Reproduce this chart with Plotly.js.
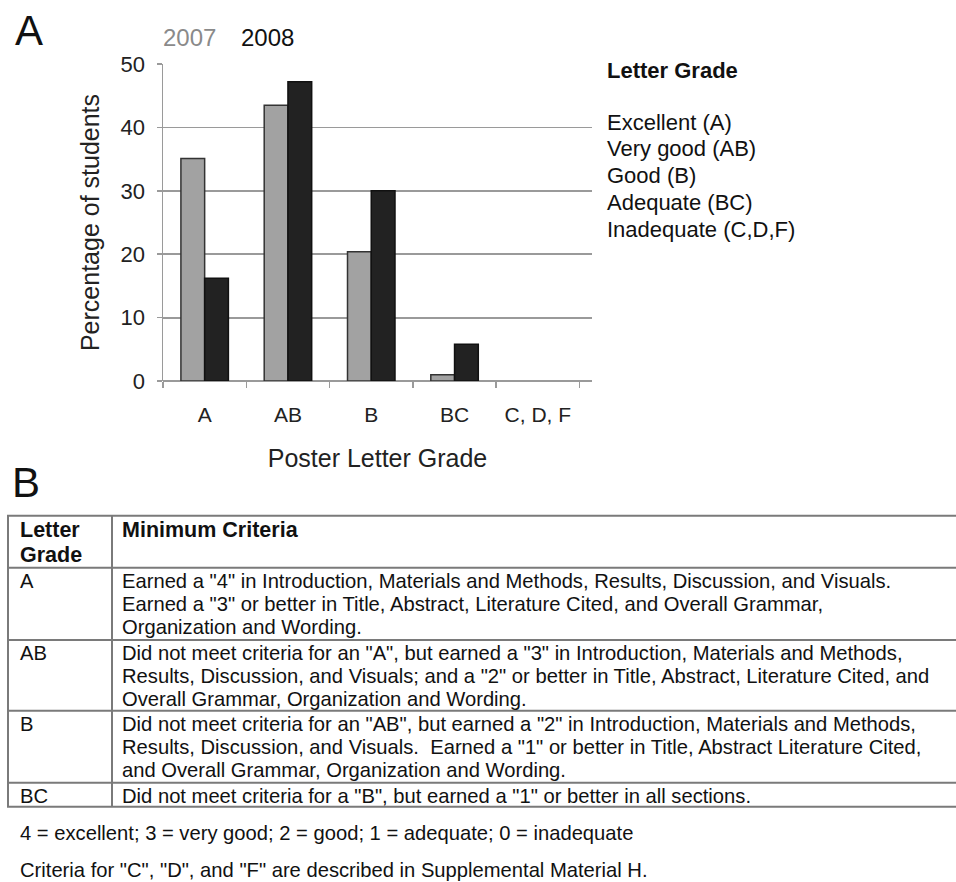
<!DOCTYPE html>
<html>
<head>
<meta charset="utf-8">
<script src="https://cdn.plot.ly/plotly-3.0.1.min.js"></script>
<style>html,body{margin:0;padding:0;background:#fff;}</style>
</head>
<body>
<div id="chart" style="width:956px;height:882px;"></div>
<script>
// ---- Data ----
const categories = ["A", "AB", "B", "BC", "C, D, F"];
const pct2007 = [35.1, 43.5, 20.4, 1.0, 0];
const pct2008 = [16.2, 47.2, 30.0, 5.8, 0];
const seriesNames = ["2007", "2008"];
const legendTitle = "Letter Grade";
const legendItems = ["Excellent (A)", "Very good (AB)", "Good (B)", "Adequate (BC)", "Inadequate (C,D,F)"];
const tableHeader = [["Letter", "Grade"], ["Minimum Criteria"]];
const tableGrades = ["A", "AB", "B", "BC"];
const tableCriteria = [
  ['Earned a "4" in Introduction, Materials and Methods, Results, Discussion, and Visuals.',
   'Earned a "3" or better in Title, Abstract, Literature Cited, and Overall Grammar,',
   'Organization and Wording.'],
  ['Did not meet criteria for an "A", but earned a "3" in Introduction, Materials and Methods,',
   'Results, Discussion, and Visuals; and a "2" or better in Title, Abstract, Literature Cited, and',
   'Overall Grammar, Organization and Wording.'],
  ['Did not meet criteria for an "AB", but earned a "2" in Introduction, Materials and Methods,',
   'Results, Discussion, and Visuals.  Earned a "1" or better in Title, Abstract Literature Cited,',
   'and Overall Grammar, Organization and Wording.'],
  ['Did not meet criteria for a "B", but earned a "1" or better in all sections.']
];
const footnotes = [
  '4 = excellent; 3 = very good; 2 = good; 1 = adequate; 0 = inadequate',
  'Criteria for "C", "D", and "F" are described in Supplemental Material H.'
];

// ---- Layout helpers (pixel -> paper) ----
const W = 956, H = 882;
const M = {l: 163, r: 364, t: 64, b: 501};
const PW = W - M.l - M.r, PH = H - M.t - M.b;
const px = x => (x - M.l) / PW;
const py = y => (H - M.b - y) / PH;
const FONT = "Liberation Sans, Arial, sans-serif";
const GRID = "#9a9a9a";

const lineW = vals => vals.map(v => (v > 0 ? 1.5 : 0));
const traces = [
  {type: "bar", name: seriesNames[0], x: categories, y: pct2007,
   marker: {color: "#a2a2a2", line: {color: "#333", width: lineW(pct2007)}}, hoverinfo: "none"},
  {type: "bar", name: seriesNames[1], x: categories, y: pct2008,
   marker: {color: "#222222", line: {color: "#111", width: lineW(pct2008)}}, hoverinfo: "none"}
];

const ann = [];
const shapes = [];
function text(t, x, y, size, opts) {
  ann.push(Object.assign({text: t, x: px(x), y: py(y), xref: "paper", yref: "paper",
    showarrow: false, xanchor: "left", yanchor: "middle", align: "left",
    font: {family: FONT, size: size, color: "#111"}}, opts || {}));
}
// panel labels
text("A", 13, 31, 42);
text("B", 10, 482, 42);
// series labels
text(seriesNames[0], 161, 37, 24, {font: {family: FONT, size: 24, color: "#8a8a8a"}});
text(seriesNames[1], 239, 37, 24);
// legend-like text
text("<b>" + legendTitle + "</b>", 605, 70, 22);
const legY = [122, 148.5, 175.5, 202.5, 229];
legendItems.forEach((s, i) => text(s, 605, legY[i], 22));

// table geometry
const tX0 = 8, tX1 = 112, tXR = 960;
const rowLines = [515.7, 567.7, 640, 710.7, 782.7, 806.7];
const LH = 23.3, BODY = 20.2, HEAD = 21.5;
rowLines.forEach(y => shapes.push({type: "line", xref: "paper", yref: "paper",
  x0: px(tX0 - 1), x1: px(tXR), y0: py(y), y1: py(y), line: {color: "#7a7a7a", width: 2}}));
[tX0, tX1].forEach(x => shapes.push({type: "line", xref: "paper", yref: "paper",
  x0: px(x), x1: px(x), y0: py(rowLines[0]), y1: py(rowLines[rowLines.length - 1]),
  line: {color: "#7a7a7a", width: 2}}));
// table header
tableHeader[0].forEach((s, k) => text("<b>" + s + "</b>", 18, rowLines[0] + 14.5 + k * 24.5, HEAD));
tableHeader[1].forEach((s, k) => text("<b>" + s + "</b>", 120, rowLines[0] + 14.5 + k * 24.5, HEAD));
tableGrades.forEach((g, i) => {
  const top = rowLines[i + 1];
  text(g, 18, top + 12.8, BODY);
  tableCriteria[i].forEach((s, k) => text(s, 120, top + 12.8 + k * LH, BODY));
});
text(footnotes[0], 18, 833, BODY);
text(footnotes[1], 18, 870, BODY);

const layout = {
  width: W, height: H,
  margin: M,
  paper_bgcolor: "#fff", plot_bgcolor: "#fff",
  showlegend: false,
  barmode: "group", bargap: 0.43, bargroupgap: 0,
  font: {family: FONT, color: "#222"},
  xaxis: {
    type: "category", range: [-0.5, 4.65], tickson: "boundaries",
    ticks: "outside", ticklen: 6, tickcolor: GRID, tickwidth: 1.5,
    showline: false, showgrid: false, zeroline: false,
    tickfont: {family: FONT, size: 21, color: "#222"}, ticklabelstandoff: 19,
    title: {text: "Poster Letter Grade", font: {family: FONT, size: 25, color: "#222"}, standoff: 24},
    fixedrange: true
  },
  yaxis: {
    range: [0, 50], dtick: 10, tick0: 0,
    ticks: "outside", ticklen: 5, tickcolor: GRID, tickwidth: 1.5,
    showline: true, linecolor: GRID, linewidth: 1.5,
    showgrid: true, gridcolor: GRID, gridwidth: 1.8,
    zeroline: true, zerolinecolor: GRID, zerolinewidth: 1.8,
    tickfont: {family: FONT, size: 22, color: "#222"}, ticklabelstandoff: 7,
    title: {text: "Percentage of students", font: {family: FONT, size: 25, color: "#222"}, standoff: 14},
    fixedrange: true
  },
  annotations: ann,
  shapes: shapes
};

Plotly.newPlot("chart", traces, layout, {staticPlot: true, displayModeBar: false});
</script>
</body>
</html>
